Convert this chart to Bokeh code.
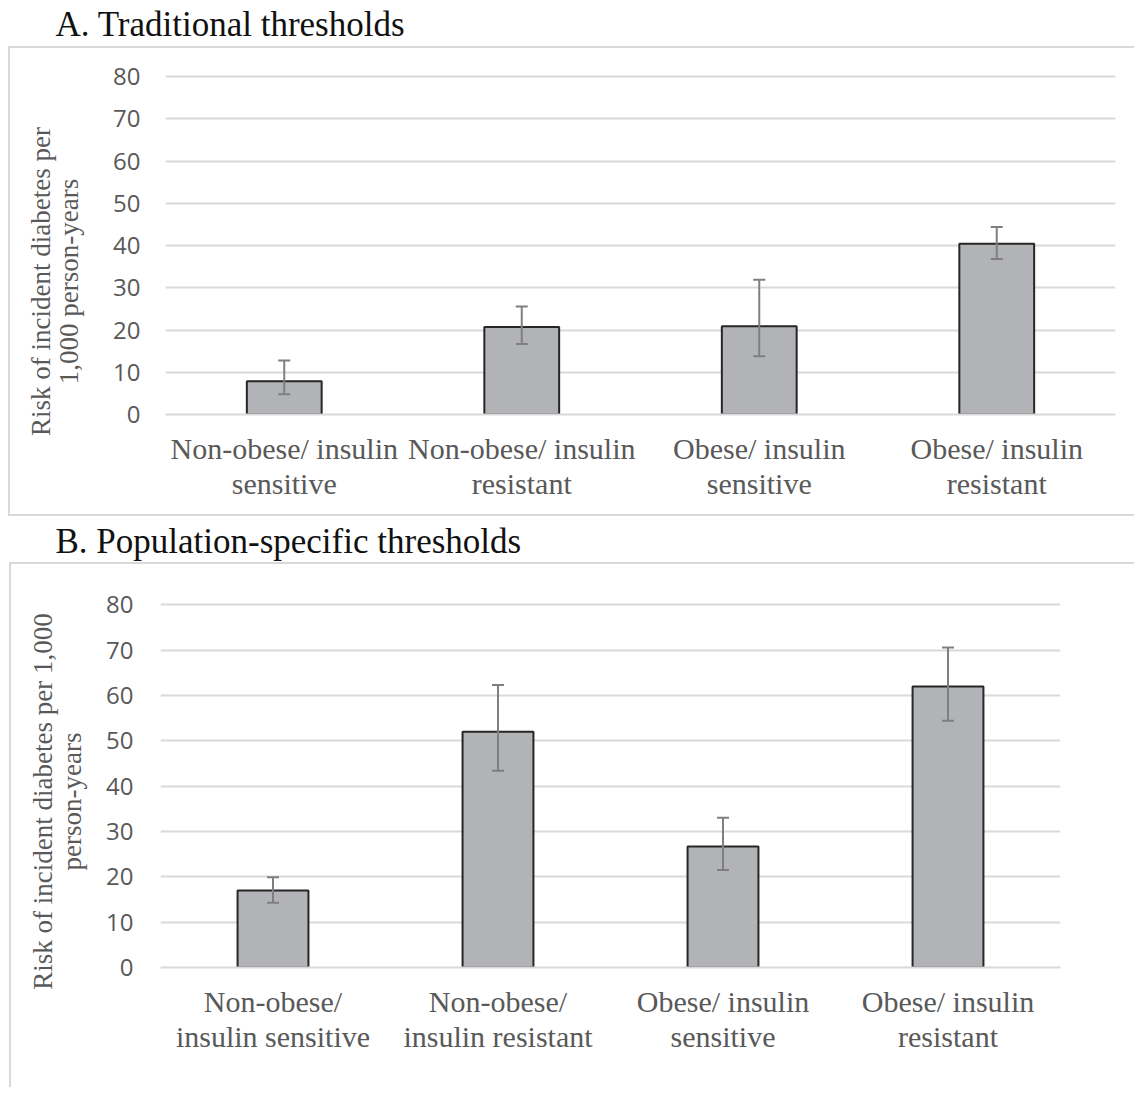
from math import pi
from bokeh.plotting import figure
from bokeh.models import (ColumnDataSource, FactorRange, Range1d, Whisker, TeeHead,
                          FixedTicker)
from bokeh.core.properties import value
from bokeh.layouts import column, row
from bokeh.embed import file_html
from bokeh.resources import INLINE

# ---------------- data ----------------
cats_a = ["Non-obese/ insulin\nsensitive", "Non-obese/ insulin\nresistant",
          "Obese/ insulin\nsensitive", "Obese/ insulin\nresistant"]
risk_a = [7.9, 20.7, 20.9, 40.4]
lower_a = [4.8, 16.7, 13.8, 36.8]
upper_a = [12.8, 25.6, 31.9, 44.4]

cats_b = ["Non-obese/\ninsulin sensitive", "Non-obese/\ninsulin resistant",
          "Obese/ insulin\nsensitive", "Obese/ insulin\nresistant"]
risk_b = [17.0, 52.0, 26.7, 62.0]
lower_b = [14.3, 43.4, 21.5, 54.4]
upper_b = [19.9, 62.3, 33.0, 70.6]

y_ticks = [0, 10, 20, 30, 40, 50, 60, 70, 80]
title_a = "A. Traditional thresholds"
title_b = "B. Population-specific thresholds"
ylabel_a = ["Risk of incident diabetes per", "1,000 person-years"]
ylabel_b = ["Risk of incident diabetes per 1,000", "person-years"]

GRID = "#d9d9d9"
TXT = "#595959"
BAR = "#b2b3b7"
SERIF = "Liberation Serif"
SANS = "Open Sans"
BORDER = "2px solid #d9d9d9"


def no_align(p):
    try:
        p.frame_align = False
    except Exception:
        pass


def pixel_fig(W, H):
    """A blank figure whose frame is the whole canvas, in pixel units (y down)."""
    t = figure(width=W, height=H, x_axis_location=None, y_axis_location=None,
               output_backend="svg", toolbar_location=None, tools="",
               x_range=Range1d(0, W), y_range=Range1d(H, 0))
    t.min_border = 0
    t.outline_line_color = None
    t.xgrid.visible = False
    t.ygrid.visible = False
    no_align(t)
    return t


def title_fig(text, H, x, ymid):
    t = pixel_fig(1134, H)
    t.text(x=[x], y=[ymid], text=[text], text_font=value(SERIF), text_font_size="35px",
           text_color="#111111", text_baseline="middle", text_align="left")
    return t


def ylabel_fig(lines, W, H, xs, yc, ml, borders):
    t = pixel_fig(W, H)
    t.margin = (0, 0, 0, ml)
    t.styles = borders
    t.text(x=xs, y=[yc] * len(lines), text=lines, angle=pi / 2,
           text_font=value(SERIF), text_font_size="27px", text_color=TXT,
           text_align="center", text_baseline="middle")
    return t


def panel(cats, vals, lo, hi, W, H, bl, br, bt, bb, borders, ystand, xstand):
    src = ColumnDataSource(dict(cat=cats, val=vals, lo=lo, hi=hi))
    p = figure(width=W, height=H, x_range=FactorRange(*cats), y_range=Range1d(0, 80.5),
               output_backend="svg", toolbar_location=None, tools="")
    no_align(p)
    p.min_border_left = bl
    p.min_border_right = br
    p.min_border_top = bt
    p.min_border_bottom = bb
    p.styles = borders
    p.outline_line_color = None

    p.vbar(x="cat", top="val", bottom=0, width=0.315, source=src,
           fill_color=BAR, line_color="#262626", line_width=2)
    p.add_layout(Whisker(source=src, base="cat", upper="hi", lower="lo",
                         line_color="#7f7f7f", line_width=2, level="overlay",
                         upper_head=TeeHead(size=12, line_color="#7f7f7f", line_width=2),
                         lower_head=TeeHead(size=12, line_color="#7f7f7f", line_width=2)))

    p.xgrid.grid_line_color = None
    p.ygrid.grid_line_color = GRID
    p.ygrid.grid_line_width = 2
    p.ygrid.ticker = FixedTicker(ticks=y_ticks)

    ya = p.yaxis[0]
    ya.ticker = FixedTicker(ticks=y_ticks)
    ya.axis_line_color = None
    ya.major_tick_line_color = None
    ya.minor_tick_line_color = None
    ya.major_tick_out = 0
    ya.major_tick_in = 0
    ya.major_label_text_font = SANS
    ya.major_label_text_font_size = "24px"
    ya.major_label_text_color = TXT
    ya.major_label_standoff = ystand

    xa = p.xaxis[0]
    xa.axis_line_color = GRID
    xa.axis_line_width = 2
    xa.major_tick_line_color = None
    xa.minor_tick_line_color = None
    xa.major_tick_out = 0
    xa.major_tick_in = 0
    xa.major_label_text_font = SERIF
    xa.major_label_text_font_size = "30px"
    xa.major_label_text_line_height = 1.08
    xa.major_label_text_color = TXT
    xa.major_label_standoff = xstand
    xa.major_label_orientation = "horizontal"
    return p


ta = title_fig(title_a, 46, 55, 24)
la = ylabel_fig(ylabel_a, 90, 470, [30, 58], 233, 8,
                {"border-top": BORDER, "border-left": BORDER, "border-bottom": BORDER})
pa = panel(cats_a, risk_a, lower_a, upper_a, 1036, 470, 67, 19, 26, 104,
           {"border-top": BORDER, "border-bottom": BORDER}, 25, 17)

tb = title_fig(title_b, 46, 55, 25)
lb = ylabel_fig(ylabel_b, 90, 525, [31, 60], 237, 9,
                {"border-top": BORDER, "border-left": BORDER})
pb = panel(cats_b, risk_b, lower_b, upper_b, 1035, 525, 61, 74, 38, 122,
           {"border-top": BORDER}, 27, 17)

layout = column(ta, row(la, pa, spacing=0), tb, row(lb, pb, spacing=0), spacing=0)
open("out.html", "w").write(file_html(layout, INLINE))
